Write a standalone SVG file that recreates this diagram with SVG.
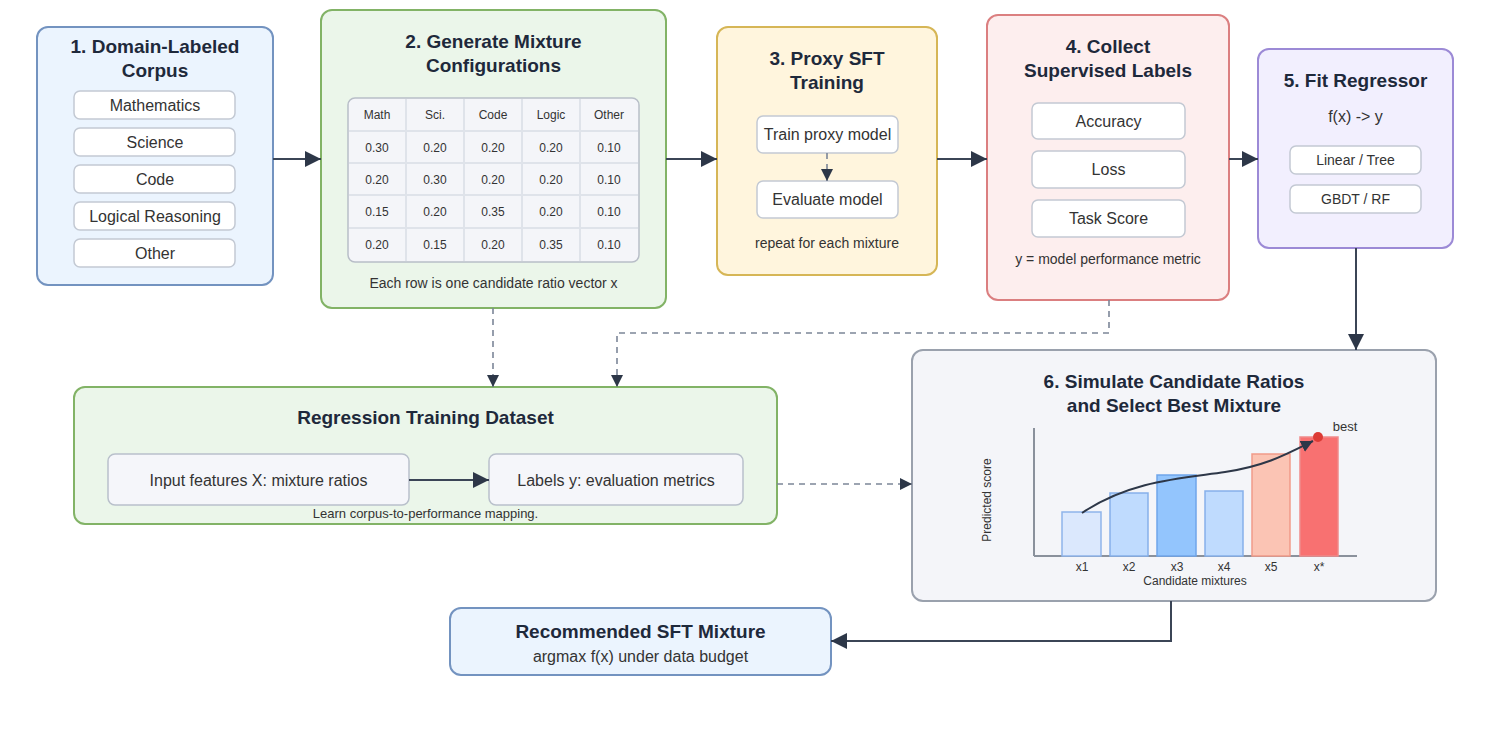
<svg xmlns="http://www.w3.org/2000/svg" width="1501" height="752" viewBox="0 0 1501 752">
<defs>
<style>
.t{font-family:"Liberation Sans",Arial,sans-serif;font-weight:bold;font-size:19px;fill:#1e293b;text-anchor:middle}
.b{font-family:"Liberation Sans",Arial,sans-serif;font-size:16px;fill:#333;text-anchor:middle}
.s{font-family:"Liberation Sans",Arial,sans-serif;font-size:14px;fill:#333;text-anchor:middle}
.xs{font-family:"Liberation Sans",Arial,sans-serif;font-size:12px;fill:#333;text-anchor:middle}
.item{fill:#fff;stroke:#c3c9d3;stroke-width:1.5}
.item2{fill:#f5f6fa;stroke:#b9c0cb;stroke-width:1.5}
.conn{fill:none;stroke:#3b4556;stroke-width:2}
.dash{fill:none;stroke:#7c8698;stroke-width:1.6;stroke-dasharray:6 5}
.grid{stroke:#dfe3ea;stroke-width:2}
</style>
<marker id="ah" markerUnits="userSpaceOnUse" markerWidth="18" markerHeight="18" refX="16" refY="8" orient="auto"><path d="M0,0 L16,8 L0,16 z" fill="#2d3748"/></marker>
<marker id="ahs" markerUnits="userSpaceOnUse" markerWidth="14" markerHeight="14" refX="12" refY="6" orient="auto"><path d="M0,0 L12,6 L0,12 z" fill="#2d3748"/></marker>
</defs>
<rect width="1501" height="752" fill="#fff"/>

<g id="node1">
<rect x="37" y="27" width="236" height="258" rx="11" fill="#ebf4fe" stroke="#7393c0" stroke-width="2"/>
<text class="t" x="155" y="52.5">1. Domain-Labeled</text>
<text class="t" x="155" y="76.5">Corpus</text>
<rect class="item" x="74" y="91" width="161" height="28" rx="6"/><text class="b" x="155" y="110.5">Mathematics</text>
<rect class="item" x="74" y="128" width="161" height="28" rx="6"/><text class="b" x="155" y="147.5">Science</text>
<rect class="item" x="74" y="165" width="161" height="28" rx="6"/><text class="b" x="155" y="184.5">Code</text>
<rect class="item" x="74" y="202" width="161" height="28" rx="6"/><text class="b" x="155" y="221.5">Logical Reasoning</text>
<rect class="item" x="74" y="239" width="161" height="28" rx="6"/><text class="b" x="155" y="258.5">Other</text>
</g>

<g id="node2">
<rect x="321" y="10" width="345" height="298" rx="11" fill="#ebf6ea" stroke="#82b366" stroke-width="2"/>
<text class="t" x="493.5" y="47.5">2. Generate Mixture</text>
<text class="t" x="493.5" y="71.5">Configurations</text>
<rect x="348" y="98" width="291" height="164" rx="7" fill="#f4f5f9" stroke="#b8bec8" stroke-width="1.5"/>
<line class="grid" x1="349" y1="131" x2="638" y2="131"/>
<line class="grid" x1="349" y1="163" x2="638" y2="163"/>
<line class="grid" x1="349" y1="195" x2="638" y2="195"/>
<line class="grid" x1="349" y1="228" x2="638" y2="228"/>
<line class="grid" x1="406" y1="99" x2="406" y2="261"/>
<line class="grid" x1="464" y1="99" x2="464" y2="261"/>
<line class="grid" x1="522" y1="99" x2="522" y2="261"/>
<line class="grid" x1="580" y1="99" x2="580" y2="261"/>
<g class="xs">
<text x="377" y="118.5">Math</text><text x="435" y="118.5">Sci.</text><text x="493" y="118.5">Code</text><text x="551" y="118.5">Logic</text><text x="609" y="118.5">Other</text>
<text x="377" y="151.5">0.30</text><text x="435" y="151.5">0.20</text><text x="493" y="151.5">0.20</text><text x="551" y="151.5">0.20</text><text x="609" y="151.5">0.10</text>
<text x="377" y="183.5">0.20</text><text x="435" y="183.5">0.30</text><text x="493" y="183.5">0.20</text><text x="551" y="183.5">0.20</text><text x="609" y="183.5">0.10</text>
<text x="377" y="215.5">0.15</text><text x="435" y="215.5">0.20</text><text x="493" y="215.5">0.35</text><text x="551" y="215.5">0.20</text><text x="609" y="215.5">0.10</text>
<text x="377" y="248.5">0.20</text><text x="435" y="248.5">0.15</text><text x="493" y="248.5">0.20</text><text x="551" y="248.5">0.35</text><text x="609" y="248.5">0.10</text>
</g>
<text class="s" x="493.5" y="288">Each row is one candidate ratio vector x</text>
</g>

<g id="node3">
<rect x="717" y="27" width="220" height="248" rx="11" fill="#fff5dd" stroke="#d6b656" stroke-width="2"/>
<text class="t" x="827" y="64.5">3. Proxy SFT</text>
<text class="t" x="827" y="88.5">Training</text>
<rect class="item" x="757" y="116" width="141" height="37" rx="6"/><text class="b" x="827.5" y="140">Train proxy model</text>
<rect class="item" x="757" y="181" width="141" height="37" rx="6"/><text class="b" x="827.5" y="205">Evaluate model</text>
<text class="s" x="827" y="248">repeat for each mixture</text>
</g>

<g id="node4">
<rect x="987" y="15" width="242" height="285" rx="11" fill="#fdeeee" stroke="#db7f80" stroke-width="2"/>
<text class="t" x="1108" y="52.5">4. Collect</text>
<text class="t" x="1108" y="76.5">Supervised Labels</text>
<rect class="item" x="1032" y="103" width="153" height="36" rx="6"/><text class="b" x="1108.5" y="126.5">Accuracy</text>
<rect class="item" x="1032" y="151" width="153" height="37" rx="6"/><text class="b" x="1108.5" y="175">Loss</text>
<rect class="item" x="1032" y="200" width="153" height="37" rx="6"/><text class="b" x="1108.5" y="224">Task Score</text>
<text class="s" x="1108" y="264">y = model performance metric</text>
</g>

<g id="node5">
<rect x="1258" y="49" width="195" height="199" rx="11" fill="#f2effe" stroke="#9c8ad6" stroke-width="2"/>
<text class="t" x="1355.5" y="86.5">5. Fit Regressor</text>
<text class="b" x="1355.5" y="121.5">f(x) -&gt; y</text>
<rect class="item" x="1290" y="146" width="131" height="28" rx="6"/><text class="s" x="1355.5" y="165">Linear / Tree</text>
<rect class="item" x="1290" y="185" width="131" height="28" rx="6"/><text class="s" x="1355.5" y="204">GBDT / RF</text>
</g>

<g id="dataset">
<rect x="74" y="387" width="703" height="137" rx="11" fill="#ebf6ea" stroke="#82b366" stroke-width="2"/>
<text class="t" x="425.5" y="423.5">Regression Training Dataset</text>
<rect class="item2" x="108" y="454" width="301" height="51" rx="7"/><text class="b" x="258.5" y="485.5">Input features X: mixture ratios</text>
<rect class="item2" x="489" y="454" width="254" height="51" rx="7"/><text class="b" x="616" y="485.5">Labels y: evaluation metrics</text>
<text class="xs" x="425.5" y="517.5" style="font-size:13px">Learn corpus-to-performance mapping.</text>
</g>

<g id="node6">
<rect x="912" y="350" width="524" height="251" rx="11" fill="#f4f5f9" stroke="#9aa1ad" stroke-width="2"/>
<text class="t" x="1174" y="387.5">6. Simulate Candidate Ratios</text>
<text class="t" x="1174" y="411.5">and Select Best Mixture</text>
<line x1="1034" y1="428" x2="1034" y2="556" stroke="#8a919c" stroke-width="2"/>
<line x1="1034" y1="556" x2="1357" y2="556" stroke="#8a919c" stroke-width="2"/>
<rect x="1062" y="512" width="39" height="44" fill="#dbe8fd" stroke="#8fb4ea" stroke-width="1.5"/>
<rect x="1110" y="493" width="38" height="63" fill="#bfdbfe" stroke="#86b0ea" stroke-width="1.5"/>
<rect x="1157" y="475" width="39" height="81" fill="#93c5fd" stroke="#6fa5ea" stroke-width="1.5"/>
<rect x="1205" y="491" width="38" height="65" fill="#bfdbfe" stroke="#86b0ea" stroke-width="1.5"/>
<rect x="1252" y="454" width="38" height="102" fill="#fbc4b4" stroke="#f19a89" stroke-width="1.5"/>
<rect x="1300" y="437" width="38" height="119" fill="#f87171" stroke="#ef8a8a" stroke-width="1.5"/>
<path d="M1082,513 C1130,480 1185,478 1225,472 C1265,466 1285,455 1313,441" fill="none" stroke="#2d3748" stroke-width="2" marker-end="url(#ahs)"/>
<circle cx="1318" cy="437" r="5" fill="#dc3b35"/>
<text class="xs" x="1345" y="431" style="font-size:13px">best</text>
<g class="xs">
<text x="1082" y="571">x1</text><text x="1129" y="571">x2</text><text x="1177" y="571">x3</text><text x="1224" y="571">x4</text><text x="1271" y="571">x5</text><text x="1319" y="571">x*</text>
<text x="1195" y="585">Candidate mixtures</text>
</g>
<text class="xs" x="0" y="0" transform="translate(991,500) rotate(-90)">Predicted score</text>
</g>

<g id="result">
<rect x="450" y="608" width="381" height="67" rx="11" fill="#ebf4fe" stroke="#7393c0" stroke-width="2"/>
<text class="t" x="640.5" y="637.5">Recommended SFT Mixture</text>
<text class="b" x="640.5" y="661.5">argmax f(x) under data budget</text>
</g>

<g id="connectors">
<line class="conn" x1="273" y1="159" x2="321" y2="159" marker-end="url(#ah)"/>
<line class="conn" x1="666" y1="159" x2="717" y2="159" marker-end="url(#ah)"/>
<line class="conn" x1="937" y1="159" x2="987" y2="159" marker-end="url(#ah)"/>
<line class="conn" x1="1229" y1="159" x2="1258" y2="159" marker-end="url(#ah)"/>
<line class="conn" x1="1356" y1="248" x2="1356" y2="350" marker-end="url(#ah)"/>
<line class="dash" x1="827" y1="153" x2="827" y2="181" marker-end="url(#ahs)"/>
<line class="conn" x1="409" y1="480" x2="489" y2="480" marker-end="url(#ah)"/>
<line class="dash" x1="493" y1="308" x2="493" y2="387" marker-end="url(#ahs)"/>
<path class="dash" d="M1109,300 V333 H617 V387" marker-end="url(#ahs)"/>
<line class="dash" x1="777" y1="484" x2="912" y2="484" marker-end="url(#ahs)"/>
<path class="conn" d="M1171,601 V641 H831" marker-end="url(#ah)"/>
</g>
</svg>
